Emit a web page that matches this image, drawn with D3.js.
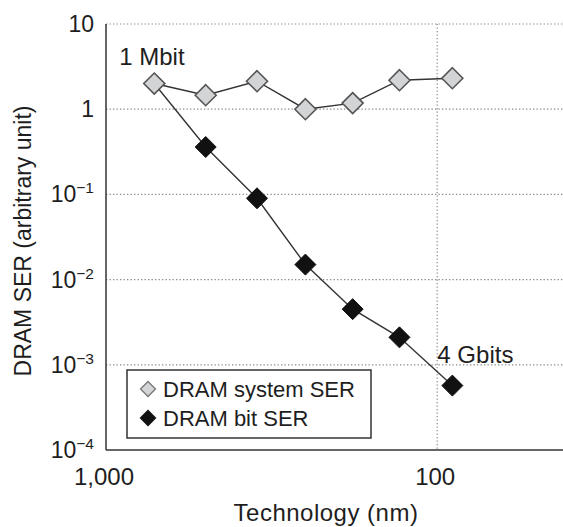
<!DOCTYPE html>
<html>
<head>
<meta charset="utf-8">
<script src="https://cdn.jsdelivr.net/npm/d3@7"></script>
<style>
  body { margin: 0; background: #fff; }
  svg { display: block; font-family: "Liberation Sans", Arial, sans-serif; }
</style>
</head>
<body>
<div id="chart"></div>
<script>
// technology node (nm) for each DRAM generation, 1 Mbit -> 4 Gbits
const techNodes = [715, 500, 350, 250, 180, 130, 90];
const systemSER = [2.0, 1.46, 2.13, 1.0, 1.18, 2.19, 2.31];
const bitSER = [2.0, 0.36, 0.09, 0.015, 0.0045, 0.0021, 0.00057];

const yTicks = [10, 1, 0.1, 0.01, 0.001, 0.0001];
const yTickBase = ["10", "1", "10", "10", "10", "10"];
const yTickExp = ["", "", "\u22121", "\u22122", "\u22123", "\u22124"];
const xTicks = [1000, 100];
const xTickLabels = ["1,000", "100"];
const seriesNames = ["DRAM system SER", "DRAM bit SER"];

const width = 563, height = 527;
const svg = d3.select("#chart").append("svg")
    .attr("width", width)
    .attr("height", height);

// reversed log x axis (1000 nm at left)
let x = d3.scaleLog().domain([1000, 40]).range([106, 569]);
let y = d3.scaleLog().domain([0.0001, 10]).range([450, 24]);

const textCol = "#1e1e1e";

// grid lines (dotted)
svg.append("g").selectAll("line")
    .data(yTicks.slice(0, 5))
    .join("line")
    .attr("x1", x(1000)).attr("x2", width)
    .attr("y1", d => y(d)).attr("y2", d => y(d))
    .attr("stroke", "#888")
    .attr("stroke-width", 1.2)
    .attr("stroke-dasharray", "1.3,2.2");

svg.append("line")
    .attr("x1", x(100)).attr("x2", x(100))
    .attr("y1", y(10)).attr("y2", y(0.0001))
    .attr("stroke", "#888")
    .attr("stroke-width", 1.2)
    .attr("stroke-dasharray", "1.3,2.2");

// axis lines
svg.append("line")
    .attr("x1", x(1000)).attr("x2", x(1000))
    .attr("y1", y(10)).attr("y2", y(0.0001))
    .attr("stroke", "#333").attr("stroke-width", 1.5);
svg.append("line")
    .attr("x1", x(1000)).attr("x2", width)
    .attr("y1", y(0.0001)).attr("y2", y(0.0001))
    .attr("stroke", "#333").attr("stroke-width", 1.5);

// y tick labels with superscripts
let yLab = svg.append("g").selectAll("text")
    .data(yTicks)
    .join("text")
    .attr("x", 94)
    .attr("y", d => y(d) + 8)
    .attr("text-anchor", "end")
    .attr("font-size", 23)
    .attr("fill", textCol);
yLab.append("tspan").text((d, i) => yTickBase[i]);
yLab.append("tspan")
    .attr("font-size", 15.5)
    .attr("dy", -9)
    .text((d, i) => yTickExp[i]);

// x tick labels
svg.append("g").selectAll("text")
    .data(xTicks)
    .join("text")
    .attr("x", d => x(d) - 2)
    .attr("y", 485)
    .attr("text-anchor", "middle")
    .attr("font-size", 24)
    .attr("fill", textCol)
    .text((d, i) => xTickLabels[i]);

// axis titles
svg.append("text")
    .attr("x", 326)
    .attr("y", 521)
    .attr("text-anchor", "middle")
    .attr("font-size", 24)
    .attr("letter-spacing", 0.5)
    .attr("fill", textCol)
    .text("Technology (nm)");

svg.append("text")
    .attr("transform", "translate(31, 241) rotate(-90)")
    .attr("text-anchor", "middle")
    .attr("font-size", 23)
    .attr("fill", textCol)
    .text("DRAM SER (arbitrary unit)");

// series
const diamond = (s) => `M0,${-s} L${s},0 L0,${s} L${-s},0 Z`;
let line = d3.line()
    .x(d => x(d[0]))
    .y(d => y(d[1]));

let sysData = techNodes.map((t, i) => [t, systemSER[i]]);
let bitData = techNodes.map((t, i) => [t, bitSER[i]]);

svg.append("path")
    .datum(bitData)
    .attr("d", line)
    .attr("fill", "none")
    .attr("stroke", "#333")
    .attr("stroke-width", 1.4);

svg.append("path")
    .datum(sysData)
    .attr("d", line)
    .attr("fill", "none")
    .attr("stroke", "#333")
    .attr("stroke-width", 1.4);

svg.append("g").selectAll("path")
    .data(bitData)
    .join("path")
    .attr("transform", d => `translate(${x(d[0])},${y(d[1])})`)
    .attr("d", diamond(10.5))
    .attr("fill", "#111")
    .attr("stroke", "#111")
    .attr("stroke-width", 1);

svg.append("g").selectAll("path")
    .data(sysData)
    .join("path")
    .attr("transform", d => `translate(${x(d[0])},${y(d[1])})`)
    .attr("d", diamond(10.5))
    .attr("fill", "#d3d4d6")
    .attr("stroke", "#555")
    .attr("stroke-width", 1.6);

// annotations
svg.append("text")
    .attr("x", x(techNodes[0]) - 35)
    .attr("y", y(systemSER[0]) - 19)
    .attr("font-size", 24)
    .attr("fill", textCol)
    .text("1 Mbit");

svg.append("text")
    .attr("x", x(techNodes[6]) - 15)
    .attr("y", y(bitSER[6]) - 23)
    .attr("font-size", 24)
    .attr("fill", textCol)
    .text("4 Gbits");

// legend
let legend = svg.append("g");
legend.append("rect")
    .attr("x", 127).attr("y", 370)
    .attr("width", 244).attr("height", 68)
    .attr("fill", "#fff")
    .attr("stroke", "#333")
    .attr("stroke-width", 1.5);

let legItems = legend.selectAll("g")
    .data(seriesNames)
    .join("g")
    .attr("transform", (d, i) => `translate(148, ${389 + i * 29})`);
legItems.append("path")
    .attr("d", diamond(7.5))
    .attr("fill", (d, i) => i === 0 ? "#d3d4d6" : "#111")
    .attr("stroke", (d, i) => i === 0 ? "#777" : "#111")
    .attr("stroke-width", 1.3);
legItems.append("text")
    .attr("x", 15)
    .attr("y", 8)
    .attr("font-size", 22)
    .attr("fill", textCol)
    .text(d => d);
</script>
</body>
</html>
